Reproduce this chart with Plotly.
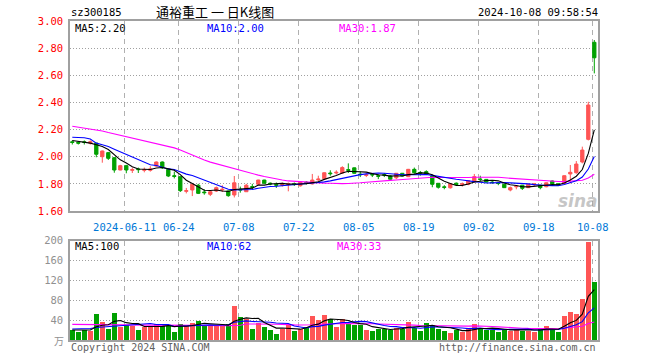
import plotly.graph_objects as go

# ---------------- data ----------------
dates = ["05-28","05-29","05-30","05-31","06-03","06-04","06-05","06-06","06-07",
         "06-11","06-12","06-13","06-14","06-17","06-18","06-19","06-20","06-21",
         "06-24","06-25","06-26","06-27","06-28","07-01","07-02","07-03","07-04","07-05",
         "07-08","07-09","07-10","07-11","07-12","07-15","07-16","07-17","07-18","07-19",
         "07-22","07-23","07-24","07-25","07-26","07-29","07-30","07-31","08-01","08-02",
         "08-05","08-06","08-07","08-08","08-09","08-12","08-13","08-14","08-15","08-16",
         "08-19","08-20","08-21","08-22","08-23","08-26","08-27","08-28","08-29","08-30",
         "09-02","09-03","09-04","09-05","09-06","09-09","09-10","09-11","09-12","09-13",
         "09-18","09-19","09-20","09-23","09-24","09-25","09-26","09-27","09-30","10-08"]

opens = [2.11,2.105,2.11,2.10,2.10,2.00,2.03,1.993,1.902,1.934,1.90,1.91,1.90,1.90,1.931,1.961,1.907,1.86,
         1.853,1.745,1.755,1.79,1.74,1.723,1.747,1.755,1.747,1.718,1.76,1.742,1.78,1.797,1.828,1.805,1.795,
         1.79,1.795,1.80,1.786,1.812,1.80,1.83,1.838,1.88,1.88,1.88,1.905,1.918,1.872,1.862,1.87,1.86,1.868,
         1.858,1.845,1.878,1.853,1.907,1.884,1.89,1.858,1.804,1.778,1.771,1.805,1.795,1.797,1.816,1.836,1.833,
         1.813,1.806,1.797,1.755,1.778,1.79,1.772,1.795,1.79,1.779,1.821,1.801,1.804,1.873,1.882,1.961,2.128,2.843]
highs = [2.12,2.11,2.12,2.12,2.10,2.045,2.035,1.995,1.94,1.94,1.92,1.92,1.92,1.93,1.965,1.965,1.91,1.89,
         1.855,1.77,1.80,1.80,1.76,1.75,1.78,1.79,1.75,1.858,1.78,1.80,1.80,1.83,1.83,1.81,1.81,
         1.81,1.81,1.81,1.815,1.82,1.873,1.86,1.885,1.90,1.90,1.93,1.951,1.92,1.89,1.88,1.88,1.87,1.88,
         1.865,1.88,1.88,1.91,1.92,1.895,1.90,1.86,1.806,1.79,1.80,1.81,1.81,1.825,1.873,1.86,1.835,
         1.82,1.81,1.80,1.78,1.79,1.79,1.80,1.805,1.79,1.81,1.825,1.805,1.862,1.939,1.968,2.074,2.405,2.86]
lows = [2.09,2.09,2.09,2.09,1.996,1.956,1.976,1.882,1.90,1.878,1.88,1.88,1.885,1.89,1.925,1.91,1.85,1.84,
        1.74,1.73,1.71,1.725,1.72,1.71,1.74,1.74,1.705,1.70,1.735,1.74,1.76,1.79,1.80,1.79,1.77,
        1.78,1.745,1.785,1.78,1.795,1.795,1.82,1.83,1.86,1.87,1.875,1.88,1.875,1.85,1.85,1.85,1.835,1.85,
        1.83,1.835,1.855,1.85,1.875,1.86,1.865,1.775,1.765,1.76,1.765,1.79,1.78,1.79,1.81,1.82,1.81,
        1.80,1.79,1.77,1.745,1.76,1.755,1.77,1.785,1.76,1.775,1.80,1.785,1.80,1.804,1.875,1.951,2.12,2.614]
closes = [2.105,2.10,2.105,2.11,2.018,2.042,1.988,1.902,1.934,1.902,1.905,1.905,1.905,1.91,1.961,1.919,1.858,1.855,
          1.75,1.75,1.797,1.73,1.735,1.742,1.772,1.76,1.713,1.808,1.755,1.79,1.775,1.828,1.804,1.80,1.79,
          1.795,1.80,1.795,1.812,1.808,1.828,1.835,1.882,1.875,1.885,1.92,1.90,1.878,1.868,1.866,1.866,1.856,1.864,
          1.834,1.878,1.858,1.907,1.882,1.88,1.87,1.797,1.775,1.774,1.80,1.795,1.80,1.823,1.853,1.832,1.813,
          1.81,1.803,1.772,1.772,1.782,1.767,1.797,1.799,1.772,1.808,1.801,1.789,1.86,1.885,1.946,2.049,2.381,2.729]
volumes = [22,17.6,21,19.6,53,37,23,55,27.6,31.6,29,21,27,27.6,33,28.3,29,17,33,31,35,39.6,29,29,29,29,33.6,69,
           47,43.6,23,35.6,26.3,21.6,13,23.6,30.3,18.3,23.6,27.6,49,41,51,42.3,27.6,42.3,32.3,31,
           31,21,19,23.6,22.3,20.3,25.6,23,37,25.6,19.6,35,31,22.3,19.6,15,21,16.3,22.3,33,22.3,21,21,17.6,
           23,19.6,21,19.6,19.6,17.6,23,29,21,17,49,57,53,83,197,117]

# moving-average values before enough history exists
ma5_head = [2.12,2.115,2.105,2.10]
ma10_head = [2.143,2.142,2.14,2.13,2.10,2.088,2.075,2.055,2.035]
ma30_head = [2.224,2.218,2.212,2.205,2.198,2.19,2.178,2.168,2.158,2.148,2.14,2.13,2.12,2.11,2.10,
             2.09,2.078,2.065,2.05,2.03,2.01,1.99,1.975,1.96,1.948,1.935,1.922,1.912,1.90]
vma5_head = [20,19.5,19.5,20]
vma10_head = [22,22,22.5,23,25,26,27,28.5,29.5]
vma30_head = [31.5,31.5,31.4,31.3,31.2,31.1,31,31,30.9,30.8,30.6,30.4,30.2,30,29.8,29.6,29.4,29.2,29,
              28.9,28.8,28.7,28.6,28.6,28.6,28.7,28.8,29,29.5]

tick_dates = ["06-11","06-24","07-08","07-22","08-05","08-19","09-02","09-18","10-08"]
tick_labels = ["2024-06-11","06-24","07-08","07-22","08-05","08-19","09-02","09-18","10-08"]
price_ticks = [1.6,1.8,2.0,2.2,2.4,2.6,2.8,3.0]
vol_ticks = [40,80,120,160,200]

# ---------------- helpers ----------------
N = len(dates)
xs = list(range(N))

def ma(vals, n, head):
    out = list(head)
    for i in range(len(head), len(vals)):
        out.append(sum(vals[i-n+1:i+1]) / n)
    return out

RED = "#FF5555"
GREEN = "#00A000"

W, H = 660, 360
L, R, T, B = 70, 62, 21, 20
pw, ph = W - L - R, H - T - B
def px(x): return (x - L) / pw
def py(y): return (H - B - y) / ph

price_dom = [py(211), 1.0]
vol_dom = [0.0, py(240.5)]
xr = [(L - 72.3) / 6.0, (W - R - 72.3) / 6.0]
tickvals = [dates.index(d) - 0.27 for d in tick_dates]

mono = "DejaVu Sans Mono"

fig = go.Figure()
fig.add_trace(go.Candlestick(
    x=xs, open=opens, high=highs, low=lows, close=closes,
    increasing=dict(line=dict(color=RED, width=1), fillcolor=RED),
    decreasing=dict(line=dict(color=GREEN, width=1), fillcolor=GREEN),
    xaxis="x", yaxis="y", showlegend=False, hoverinfo="skip"))

for vals, color in [(ma(closes, 30, ma30_head), "#FF00FF"),
                    (ma(closes, 10, ma10_head), "#0000FF"),
                    (ma(closes, 5, ma5_head), "#000000")]:
    fig.add_trace(go.Scatter(x=xs, y=vals, mode="lines", line=dict(color=color, width=1.1),
                             xaxis="x", yaxis="y", showlegend=False, hoverinfo="skip"))

bar_colors = [RED if c >= o else GREEN for o, c in zip(opens, closes)]
fig.add_trace(go.Bar(x=xs, y=volumes, marker=dict(color=bar_colors, line=dict(width=0)),
                     width=0.82, xaxis="x2", yaxis="y2", showlegend=False, hoverinfo="skip"))
for vals, color in [(ma(volumes, 30, vma30_head), "#FF00FF"),
                    (ma(volumes, 10, vma10_head), "#0000FF"),
                    (ma(volumes, 5, vma5_head), "#000000")]:
    fig.add_trace(go.Scatter(x=xs, y=vals, mode="lines", line=dict(color=color, width=1.1),
                             xaxis="x2", yaxis="y2", showlegend=False, hoverinfo="skip"))

axis_common = dict(showline=True, mirror=True, linecolor="#A0A0A0", linewidth=1.5,
                   zeroline=False, fixedrange=True)

fig.update_layout(
    width=W, height=H,
    margin=dict(l=L, r=R, t=T, b=B, pad=0),
    paper_bgcolor="white", plot_bgcolor="white",
    boxgap=0.22, bargap=0,
    font=dict(family=mono, size=10, color="#000"),
    xaxis=dict(domain=[0, 1], anchor="y", range=xr, tickmode="array", tickvals=tickvals,
               ticktext=tick_labels, tickfont=dict(family=mono, size=10.5, color="#0078D7"),
               ticks="outside", ticklen=6, tickcolor="rgba(0,0,0,0)",
               showgrid=True, gridcolor="#B0B0B0", griddash="5px,4px", gridwidth=1,
               rangeslider=dict(visible=False), **axis_common),
    yaxis=dict(domain=price_dom, anchor="x", range=[1.6, 3.0], tickmode="array",
               tickvals=price_ticks, ticktext=["%.2f" % v for v in price_ticks],
               tickfont=dict(family=mono, size=10.5, color="#FF0000"),
               ticks="outside", ticklen=3, tickcolor="rgba(0,0,0,0)",
               showgrid=True, gridcolor="#A0A0A0", griddash="1px,2px", gridwidth=1, **axis_common),
    xaxis2=dict(domain=[0, 1], anchor="y2", range=xr, tickmode="array", tickvals=tickvals,
                showticklabels=False, ticks="",
                showgrid=True, gridcolor="#B0B0B0", griddash="5px,4px", gridwidth=1, **axis_common),
    yaxis2=dict(domain=vol_dom, anchor="x2", range=[0, 200], tickmode="array",
                tickvals=vol_ticks, ticktext=[str(v) for v in vol_ticks],
                tickfont=dict(family=mono, size=10.5, color="#909090"),
                ticks="outside", ticklen=3, tickcolor="rgba(0,0,0,0)",
                showgrid=True, gridcolor="#A0A0A0", griddash="1px,2px", gridwidth=1, **axis_common),
)

def note(text, x, y, color="#000", size=10, xanchor="left", family=mono, **kw):
    fig.add_annotation(text=text, x=px(x), y=py(y), xref="paper", yref="paper",
                       xanchor=xanchor, yanchor="middle", showarrow=False,
                       font=dict(family=family, size=size, color=color, **kw))

note("sz300185", 69, 12, size=10.5)
note("通裕重工 一 日K线图", 215, 12, size=13, xanchor="center", family="Noto Sans CJK SC")
note("2024-10-08 09:58:54", 600, 12, size=10.5, xanchor="right")
note("MA5:2.20", 73, 28, size=10.5)
note("MA10:2.00", 205, 28, color="#0000FF", size=10.5)
note("MA30:1.87", 337, 28, color="#FF00FF", size=10.5)
note("MA5:100", 73, 246, size=10.5)
note("MA10:62", 205, 246, color="#0000FF", size=10.5)
note("MA30:33", 335, 246, color="#FF00FF", size=10.5)
note("万", 66, 340, color="#909090", size=10, xanchor="right", family="Noto Sans CJK SC")
note("Copyright 2024 SINA.COM", 69, 347, color="#606060", size=10)
note("http://finance.sina.com.cn", 598, 347, color="#606060", size=10, xanchor="right")
note("sina", 578, 201, color="rgba(160,160,160,0.6)", size=17, xanchor="center",
     family="DejaVu Sans", weight="bold", style="italic")

fig.write_html("out.html", config={"displayModeBar": False},
               post_script="document.body.style.margin='0px';")
